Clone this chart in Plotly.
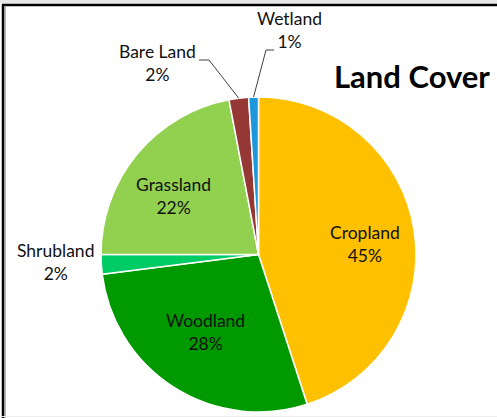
import math
import plotly.graph_objects as go

# Land cover shares (percent), clockwise from 12 o'clock
categories = ["Cropland", "Woodland", "Shrubland", "Grassland", "Bare Land", "Wetland"]
shares = [45, 28, 2, 22, 2, 1]
colors = ["#FFC000", "#009900", "#00CC66", "#92D050", "#953735", "#1E96DC"]

W, H = 497, 418
FONT = "Lato"

def px(x):
    return x / W

def py(y):
    return 1 - y / H

# pie geometry in pixels
cx, cy, r = 258.5, 254.5, 157.5

fig = go.Figure(go.Pie(
    labels=categories,
    values=shares,
    sort=False,
    direction="clockwise",
    rotation=0,
    marker=dict(colors=colors, line=dict(color="white", width=1.5)),
    textinfo="none",
    hoverinfo="label+percent",
    showlegend=False,
    domain=dict(x=[px(cx - r), px(cx + r)], y=[py(cy + r), py(cy - r)]),
))

# label placement: (text centre x, y of first line) in pixels
label_pos = {
    "Cropland": (365, 232),
    "Woodland": (205, 320),
    "Shrubland": (55, 250),
    "Grassland": (173, 184),
    "Bare Land": (157, 52),
    "Wetland": (289, 19),
}

annotations = []
for name, val in zip(categories, shares):
    x, y = label_pos[name]
    annotations.append(dict(
        x=px(x), y=py(y + 11.5), xref="paper", yref="paper",
        text=f"{name}<br>{val}%", showarrow=False,
        xanchor="center", yanchor="middle",
        font=dict(family=FONT, size=17.5, color="#111111"),
    ))

annotations.append(dict(
    x=px(412), y=py(76), xref="paper", yref="paper",
    text="<b>Land Cover</b>", showarrow=False,
    xanchor="center", yanchor="middle",
    font=dict(family=FONT, size=31, color="black"),
))

# leader lines for the two thin slices at the top
total = sum(shares)
cum = 0
mids = {}
for name, val in zip(categories, shares):
    mids[name] = (cum + val / 2) / total * 2 * math.pi
    cum += val

def edge(name):
    a = mids[name]
    return cx + math.sin(a) * r, cy - math.cos(a) * r

shapes = []
leader = {
    "Bare Land": [(199, 60), (209, 60)],
    "Wetland": [(274, 50), (266, 50)],
}
for name, pts in leader.items():
    ex, ey = edge(name)
    (x0, y0), (x1, y1) = pts
    path = f"M {px(x0)},{py(y0)} L {px(x1)},{py(y1)} L {px(ex)},{py(ey)}"
    shapes.append(dict(type="path", xref="paper", yref="paper", path=path,
                       line=dict(color="#404040", width=1)))

# outer frame
shapes += [
    dict(type="rect", xref="paper", yref="paper", x0=0, x1=1, y0=py(3.5), y1=1,
         fillcolor="#E6E6E6", line_width=0, layer="below"),
    dict(type="line", xref="paper", yref="paper", x0=px(2), x1=1, y0=py(5), y1=py(5),
         line=dict(color="black", width=2.5)),
    dict(type="line", xref="paper", yref="paper", x0=px(3), x1=px(3), y0=0, y1=py(4),
         line=dict(color="black", width=2.5)),
    dict(type="line", xref="paper", yref="paper", x0=px(5), x1=px(5), y0=0, y1=py(6),
         line=dict(color="#9A9A9A", width=1.5)),
    dict(type="line", xref="paper", yref="paper", x0=0, x1=1, y0=py(416.5), y1=py(416.5),
         line=dict(color="#EEEEEE", width=1)),
]

fig.update_layout(
    width=W, height=H,
    margin=dict(l=0, r=0, t=0, b=0),
    paper_bgcolor="white",
    plot_bgcolor="white",
    annotations=annotations,
    shapes=shapes,
)

fig.write_html("out.html")
